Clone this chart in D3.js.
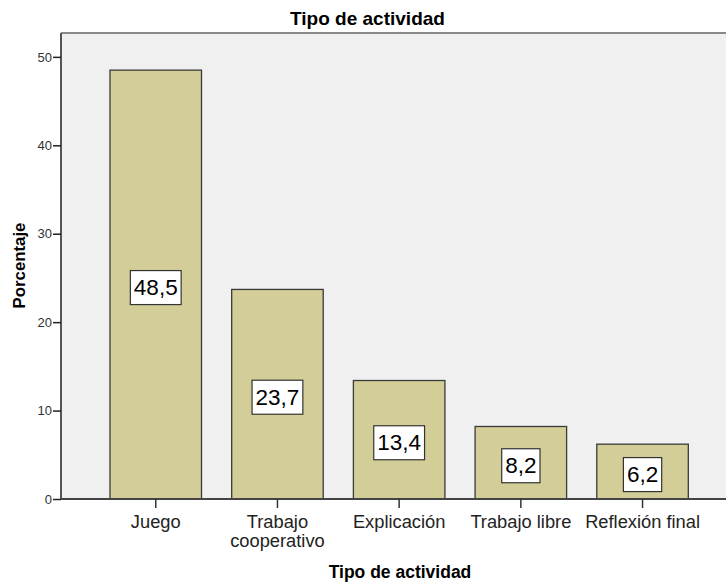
<!DOCTYPE html>
<html>
<head>
<meta charset="utf-8">
<script src="https://cdn.jsdelivr.net/npm/d3@7"></script>
<style>
  body { margin: 0; background: #fff; }
  svg { display: block; font-family: Arial, "Liberation Sans", sans-serif; }
</style>
</head>
<body>
<svg id="chart" width="726" height="582"></svg>
<script>
  const categories = ["Juego", "Trabajo cooperativo", "Explicación", "Trabajo libre", "Reflexión final"];
  const catLines = [["Juego"], ["Trabajo", "cooperativo"], ["Explicación"], ["Trabajo libre"], ["Reflexión final"]];
  const values = [48.5, 23.7, 13.4, 8.2, 6.2];
  const yTicks = [0, 10, 20, 30, 40, 50];

  const svg = d3.select("#chart");
  const W = 726, H = 582;
  const plot = { left: 61, top: 33, bottom: 499 };

  const y = d3.scaleLinear().domain([0, 52.7]).range([plot.bottom, plot.top]);
  const x = d3.scaleBand()
    .domain(categories)
    .range([94.9, 703.4])
    .paddingInner(0.248)
    .paddingOuter(0.124);

  // plot background
  svg.append("rect")
    .attr("x", plot.left).attr("y", plot.top)
    .attr("width", W - plot.left).attr("height", plot.bottom - plot.top)
    .attr("fill", "#f0f0f0");

  // top border
  svg.append("line")
    .attr("x1", plot.left).attr("x2", W)
    .attr("y1", plot.top).attr("y2", plot.top)
    .attr("stroke", "#8a8a8a").attr("stroke-width", 2);

  // bars
  svg.append("g").selectAll("rect")
    .data(values)
    .join("rect")
    .attr("x", (d, i) => x(categories[i]))
    .attr("y", d => y(d))
    .attr("width", x.bandwidth())
    .attr("height", d => y(0) - y(d))
    .attr("fill", "#d3ce97")
    .attr("stroke", "#3a3a3a")
    .attr("stroke-width", 1.3);

  // value labels
  const lab = svg.append("g").selectAll("g")
    .data(values)
    .join("g")
    .attr("transform", (d, i) => `translate(${x(categories[i]) + x.bandwidth() / 2},${y(d / 2) + 3})`);
  lab.append("text")
    .attr("text-anchor", "middle")
    .attr("dominant-baseline", "central")
    .attr("font-size", 22.5)
    .attr("fill", "#000")
    .text(d => d3.format(".1f")(d).replace(".", ","))
    .each(function () {
      const b = this.getBBox();
      d3.select(this.parentNode).insert("rect", "text")
        .attr("x", b.x - 3.5).attr("y", -17)
        .attr("width", b.width + 7).attr("height", 34)
        .attr("fill", "#fff").attr("stroke", "#333").attr("stroke-width", 1.2);
    });

  // y axis
  const yAxis = svg.append("g")
    .attr("transform", `translate(${plot.left},0)`)
    .call(d3.axisLeft(y).tickValues(yTicks).tickSize(8).tickPadding(1).tickSizeOuter(0));
  yAxis.select(".domain").attr("stroke", "#555").attr("stroke-width", 2)
    .attr("d", `M0,${plot.top}V${plot.bottom}`);
  yAxis.selectAll(".tick line").attr("stroke", "#222").attr("stroke-width", 1.5);
  yAxis.selectAll(".tick text").attr("font-size", 13).attr("fill", "#333")
    .attr("font-family", "Arial, 'Liberation Sans', sans-serif");

  // x axis
  const xAxis = svg.append("g")
    .attr("transform", `translate(0,${plot.bottom})`)
    .call(d3.axisBottom(x).tickSize(9).tickSizeOuter(0).tickFormat(""));
  xAxis.select(".domain").attr("stroke", "#444").attr("stroke-width", 2)
    .attr("d", `M${plot.left},0H${W}`);
  xAxis.selectAll(".tick line").attr("stroke", "#333").attr("stroke-width", 1.5);
  xAxis.selectAll(".tick").each(function (d, i) {
    const t = d3.select(this).append("text")
      .attr("text-anchor", "middle")
      .attr("font-size", 18.3)
      .attr("fill", "#222")
      .attr("font-family", "Arial, 'Liberation Sans', sans-serif");
    catLines[i].forEach((l, j) => {
      t.append("tspan").attr("x", 0).attr("y", 28.5 + j * 19).text(l);
    });
  });

  // titles
  svg.append("text")
    .attr("x", 367.5).attr("y", 25)
    .attr("text-anchor", "middle")
    .attr("font-size", 19).attr("font-weight", "bold")
    .text("Tipo de actividad");

  svg.append("text")
    .attr("x", 400).attr("y", 578)
    .attr("text-anchor", "middle")
    .attr("font-size", 17.5).attr("font-weight", "bold")
    .text("Tipo de actividad");

  svg.append("text")
    .attr("transform", "translate(25,265.5) rotate(-90)")
    .attr("text-anchor", "middle")
    .attr("font-size", 16.8).attr("font-weight", "bold")
    .text("Porcentaje");
</script>
</body>
</html>
